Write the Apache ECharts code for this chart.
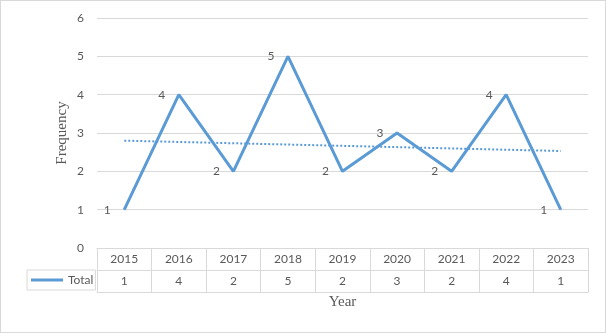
<!DOCTYPE html>
<html><head><meta charset="utf-8">
<script src="https://cdn.jsdelivr.net/npm/echarts@6/dist/echarts.min.js"></script>
<style>html,body{margin:0;padding:0;background:#fff}#c{width:606px;height:333px;box-sizing:border-box;border:1px solid #d9d9d9}</style>
</head><body><div id="c"></div>
<script>
const years = ['2015','2016','2017','2018','2019','2020','2021','2022','2023'];
const totals = [1,4,2,5,2,3,2,4,1];
const trendEnds = [2.8, 2.53];
const yTicks = [0,1,2,3,4,5,6];

const trend = years.map((y,i)=> i===0 ? trendEnds[0] : (i===years.length-1 ? trendEnds[1] : null));
const gray = '#595959', lineGray = '#d9d9d9', blue = '#5B9BD5';
const chart = echarts.init(document.getElementById('c'));
chart.setOption({
  animation:false,
  textStyle:{fontFamily:'Lato'},
  grid:{left:96, right:17, top:17, bottom:84},
  legend:{
    left:26, top:269,
    data:[{name:'Total', icon:'rect'}],
    itemWidth:32, itemHeight:3, itemGap:0,
    padding:[4,2,4,4],
    borderColor:lineGray, borderWidth:1,
    textStyle:{color:gray, fontSize:12, fontFamily:'Lato'},
    selectedMode:false
  },
  xAxis:[
    {type:'category', data:years, boundaryGap:true, position:'bottom',
     axisLine:{show:true, lineStyle:{color:lineGray}},
     axisTick:{show:true, length:44, interval:0, lineStyle:{color:lineGray}},
     axisLabel:{color:gray, fontSize:12, margin:5, interval:0}},
    {type:'category', data:years, boundaryGap:true, position:'bottom', offset:22,
     axisLine:{show:true, lineStyle:{color:lineGray}}, axisTick:{show:false},
     axisLabel:{color:gray, fontSize:12, margin:5, interval:0, formatter:(v,i)=>String(totals[i])}},
    {type:'category', data:years, boundaryGap:true, position:'bottom', offset:44,
     axisLine:{show:true, lineStyle:{color:lineGray}}, axisTick:{show:false},
     axisLabel:{show:false},
     name:'Year', nameLocation:'middle', nameGap:3, nameMoveOverlap:false,
     nameTextStyle:{color:gray, fontSize:15, fontFamily:'Liberation Serif', verticalAlign:'top'}}
  ],
  yAxis:{type:'value', min:yTicks[0], max:yTicks[yTicks.length-1], interval:1,
    axisLine:{show:false}, axisTick:{show:false},
    axisLabel:{color:gray, fontSize:12, margin:13},
    splitLine:{lineStyle:{color:lineGray}},
    name:'Frequency', nameLocation:'middle', nameGap:27, nameRotate:90, nameMoveOverlap:false,
    nameTextStyle:{color:gray, fontSize:15, fontFamily:'Liberation Serif'}},
  series:[
    {name:'Total', type:'line', data:totals, xAxisIndex:0, symbol:'circle', symbolSize:1, showSymbol:true,
     lineStyle:{color:blue, width:3}, itemStyle:{color:blue},
     label:{show:true, position:'left', distance:13, color:gray, fontSize:12, fontFamily:'Lato'}},
    {name:'trend', type:'line', data:trend, connectNulls:true, xAxisIndex:0, symbol:'none',
     lineStyle:{color:blue, width:2, type:[2,2]}, silent:true}
  ]
});
</script></body></html>
